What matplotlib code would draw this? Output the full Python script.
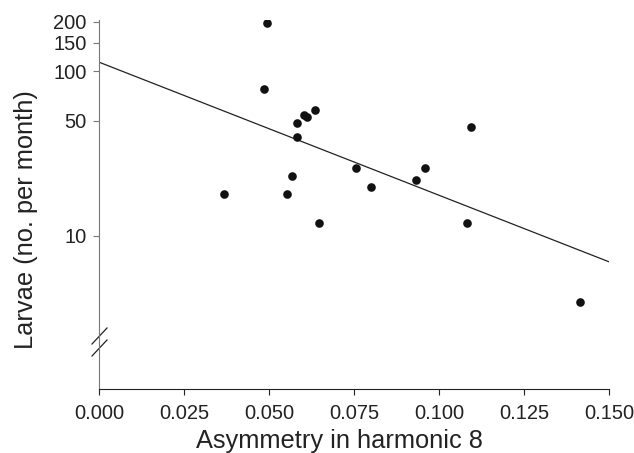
import matplotlib
matplotlib.use("Agg")
import matplotlib.pyplot as plt
from matplotlib.ticker import FixedLocator, NullLocator, FixedFormatter

plt.rcParams['font.family'] = ['Liberation Sans', 'DejaVu Sans']

asymmetry = [0.0368, 0.0494, 0.0485, 0.0582, 0.0582, 0.0603, 0.0612, 0.0636,
             0.0567, 0.0554, 0.0647, 0.1095, 0.0755, 0.0800, 0.0958, 0.0932,
             0.1082, 0.1415]
larvae = [18.0, 197, 78, 48.6, 40, 54.5, 52.9, 58.3,
          23.2, 18.0, 12.0, 46, 25.9, 19.9, 25.9, 21.9,
          12.0, 3.97]

fitX = [0.0, 0.150]
fitY = [114, 6.95]

yTicks = [10, 50, 100, 150, 200]
xTicks = [0.000, 0.025, 0.050, 0.075, 0.100, 0.125, 0.150]

fig = plt.figure(figsize=(6.34, 4.53), dpi=100)
ax = fig.add_axes([0.156, 0.1413, 0.8046, 0.8145])

ax.plot(fitX, fitY, color='#222222', linewidth=0.9)
ax.plot(asymmetry, larvae, 'o', color='#111111', markersize=6.2, markeredgewidth=0)

ax.set_yscale('log')
ax.set_xlim(0, 0.150)
ax.set_ylim(1.17, 205.6)
ax.yaxis.set_major_locator(FixedLocator(yTicks))
ax.yaxis.set_major_formatter(FixedFormatter([str(t) for t in yTicks]))
ax.yaxis.set_minor_locator(NullLocator())
ax.set_xticks(xTicks)
ax.set_xticklabels(["%.3f" % t for t in xTicks])

ax.spines['top'].set_visible(False)
ax.spines['right'].set_visible(False)
ax.spines['left'].set_color('#777777')
ax.spines['bottom'].set_color('#222222')
ax.tick_params(axis='both', direction='out', length=4.5, width=0.8, labelsize=14.5,
               colors='#222222', pad=4.5)
ax.tick_params(axis='x', pad=6.5)
ax.tick_params(axis='y', color='#777777', labelcolor='#222222')

ax.set_xlabel("Asymmetry in harmonic 8", fontsize=18.3, color='#222222', labelpad=4)
ax.set_ylabel("Larvae (no. per month)", fontsize=18.3, color='#222222', labelpad=11)
ax.xaxis.label.set_x(0.4725)
ax.yaxis.label.set_y(0.459)

# axis break marks on the y axis
for dy in [0, -12]:
    ax.plot([92 / 634, 107 / 634], [(453 - 344 + dy) / 453, (453 - 328 + dy) / 453],
            transform=fig.transFigure, color='#222222', linewidth=0.9, clip_on=False)

plt.savefig("out.png", dpi=100)
